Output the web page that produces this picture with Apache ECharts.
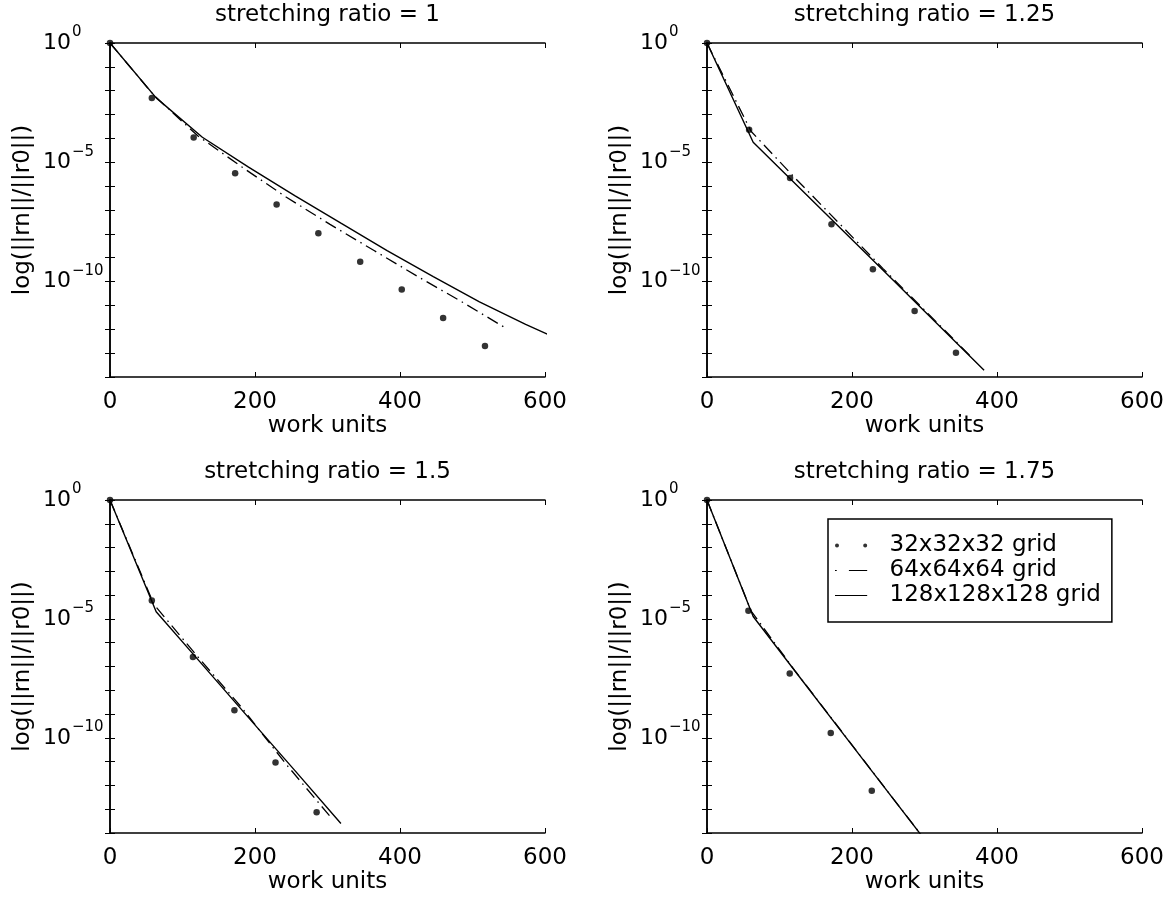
<!DOCTYPE html>
<html><head><meta charset="utf-8">
<script src="https://cdn.jsdelivr.net/npm/echarts@6/dist/echarts.min.js"></script>
<style>html,body{margin:0;padding:0;background:#fff}#c{width:1175px;height:905px}</style>
</head><body><div id="c"></div>
<script>
// ---------------- data ----------------
const titles = ['stretching ratio = 1', 'stretching ratio = 1.25', 'stretching ratio = 1.5', 'stretching ratio = 1.75'];
const seriesNames = ['32x32x32 grid', '64x64x64 grid', '128x128x128 grid'];
const xTickValues = [0, 200, 400, 600];
const yLabelExponents = [0, -5, -10];
const xAxisName = 'work units';
const yAxisName = 'log(||rn||/||r0||)';

// stretching ratio = 1
const r1_x32 = [0, 57.7, 115.4, 172.6, 229.8, 287.4, 345.1, 402.4, 459.5, 517.2];
const r1_y32 = [1, 5.0e-3, 1.1e-4, 3.5e-6, 1.7e-7, 1.05e-8, 6.8e-10, 4.6e-11, 3.0e-12, 2.0e-13];
const r1_x64 = [0, 60.7, 121.4, 182.1, 242.8, 303.5, 364.2, 424.9, 485.6, 546.3];
const r1_y64 = [1, 6.3e-3, 1.26e-4, 6.3e-6, 3.5e-7, 2.5e-8, 2.0e-9, 1.6e-10, 1.4e-11, 1.1e-12];
const r1_x128 = [0, 63.7, 127.4, 191.1, 254.8, 318.5, 382.2, 445.9, 509.6, 573.3, 637.0];
const r1_y128 = [1, 5.0e-3, 1.12e-4, 6.3e-6, 4.0e-7, 2.8e-8, 2.0e-9, 1.6e-10, 1.4e-11, 1.6e-12, 2.2e-13];

// stretching ratio = 1.25
const r2_x32 = [0, 58.1, 114.6, 171.7, 228.8, 286.4, 343.4];
const r2_y32 = [1, 2.3e-4, 2.2e-6, 2.5e-8, 3.3e-10, 5.8e-12, 1.05e-13];
const r2_x64 = [0, 60.7, 121.4, 182.1, 242.8, 303.5, 364.2];
const r2_y64 = [1, 2.0e-4, 2.2e-6, 2.8e-8, 3.5e-10, 5.0e-12, 7.1e-14];
const r2_x128 = [0, 63.7, 127.4, 191.1, 254.8, 318.5, 382.2];
const r2_y128 = [1, 6.9e-5, 8.5e-7, 1.05e-8, 1.3e-10, 1.6e-12, 1.9e-14];

// stretching ratio = 1.5
const r3_x32 = [0, 57.7, 114.4, 171.6, 228.3, 285.0];
const r3_y32 = [1, 6.0e-5, 2.5e-7, 1.45e-9, 9.3e-12, 7.4e-14];
const r3_x64 = [0, 60.7, 121.4, 182.1, 242.8, 303.5];
const r3_y64 = [1, 4.0e-5, 2.5e-7, 1.8e-9, 7.9e-12, 5.0e-14];
const r3_x128 = [0, 63.7, 127.4, 191.1, 254.8, 318.5];
const r3_y128 = [1, 2.0e-5, 1.2e-7, 7.1e-10, 4.3e-12, 2.5e-14];

// stretching ratio = 1.75
const r4_x32 = [0, 57.1, 114.1, 170.7, 227.3];
const r4_y32 = [1, 2.2e-5, 5.1e-8, 1.6e-10, 6.0e-13];
const r4_x64 = [0, 60.7, 121.4, 182.1, 242.8, 303.5];
const r4_y64 = [1, 2.2e-5, 6.6e-8, 2.6e-10, 1.0e-12, 4.0e-15];
const r4_x128 = [0, 63.7, 127.4, 191.1, 254.8, 318.5];
const r4_y128 = [1, 1.26e-5, 3.7e-8, 1.1e-10, 3.3e-13, 1.0e-15];

const panels = [
  [[r1_x32, r1_y32], [r1_x64, r1_y64], [r1_x128, r1_y128]],
  [[r2_x32, r2_y32], [r2_x64, r2_y64], [r2_x128, r2_y128]],
  [[r3_x32, r3_y32], [r3_x64, r3_y64], [r3_x128, r3_y128]],
  [[r4_x32, r4_y32], [r4_x64, r4_y64], [r4_x128, r4_y128]]
];

// ---------------- layout / style ----------------
const FONT = "'DejaVu Sans', 'Liberation Sans', Arial, sans-serif";
const FS = 23;
const gridBoxes = [
  {left: 110, top: 43, width: 435, height: 334},
  {left: 707, top: 43, width: 435, height: 334},
  {left: 110, top: 500, width: 435, height: 333},
  {left: 707, top: 500, width: 435, height: 333}
];
const AXIS_LINE = {show: true, lineStyle: {color: '#000', width: 1.5}};
const TICK = {show: true, inside: true, length: 5, lineStyle: {color: '#000', width: 1}};

const zip = (xs, ys) => xs.map((x, i) => [x, ys[i]]);
const supText = e => (e < 0 ? '\u2212' + (-e) : String(e));

const option = {
  animation: false,
  backgroundColor: '#fff',
  color: ['#000'],
  textStyle: {fontFamily: FONT, color: '#000'},
  title: gridBoxes.map((g, i) => ({
    text: titles[i], left: g.left + g.width / 2, top: g.top - 39, textAlign: 'center', padding: 0,
    textStyle: {fontFamily: FONT, fontSize: FS, fontWeight: 'normal', color: '#000', lineHeight: 23}
  })),
  grid: gridBoxes.map(g => Object.assign({containLabel: false, show: false}, g)),
  xAxis: [],
  yAxis: [],
  legend: {
    show: true, orient: 'vertical', left: 828, top: 519,
    backgroundColor: '#fff', borderColor: '#000', borderWidth: 1.5, borderRadius: 0,
    padding: [14, 11, 14, 7], itemGap: 0, itemWidth: 37, itemHeight: 4,
    textStyle: {fontFamily: FONT, fontSize: FS, color: '#000', lineHeight: 25, padding: [0, 0, 0, 15]},
    selectedMode: false,
    data: [
      {name: seriesNames[0], icon: 'path://M0,2a2.3,2.3 0 1,0 4.6,0a2.3,2.3 0 1,0 -4.6,0zM32.4,2a2.3,2.3 0 1,0 4.6,0a2.3,2.3 0 1,0 -4.6,0z'},
      {name: seriesNames[1], icon: 'path://M0,1.3h2v1.4h-2zM16,1.3h21v1.4h-21zM0,-0.3h0.01v4.6h-0.01z'},
      {name: seriesNames[2], icon: 'path://M0,1.3h37v1.4h-37zM0,-0.3h0.01v4.6h-0.01z'}
    ]
  },
  series: []
};

gridBoxes.forEach((g, i) => {
  option.xAxis.push({
    gridIndex: i, type: 'value', min: 0, max: 600, interval: 200, position: 'bottom',
    axisLine: AXIS_LINE, axisTick: TICK, splitLine: {show: false},
    axisLabel: {show: true, margin: 14, fontSize: FS, fontFamily: FONT, color: '#000',
      formatter: v => (xTickValues.indexOf(v) >= 0 ? String(v) : '')},
    name: xAxisName, nameLocation: 'middle', nameGap: 38,
    nameTextStyle: {fontSize: FS, fontFamily: FONT, color: '#000'}
  });
  option.xAxis.push({
    gridIndex: i, type: 'value', min: 0, max: 600, interval: 200, position: 'top',
    axisLine: AXIS_LINE, axisTick: TICK, axisLabel: {show: false}, splitLine: {show: false}
  });
  option.yAxis.push({
    gridIndex: i, type: 'log', logBase: 10, min: 1e-14, max: 1, interval: 1, position: 'left',
    axisLine: AXIS_LINE, axisTick: TICK, splitLine: {show: false}, minorTick: {show: false},
    axisLabel: {
      show: true, align: 'left', margin: 67, color: '#000',
      formatter: v => {
        const e = Math.round(Math.log10(v));
        return yLabelExponents.indexOf(e) >= 0 ? '{b|10}{s|' + supText(e) + '}' : '';
      },
      rich: {
        b: {fontSize: 22, fontFamily: FONT, color: '#000', lineHeight: 36, verticalAlign: 'middle'},
        s: {fontSize: 15, fontFamily: FONT, color: '#000', lineHeight: 16, verticalAlign: 'top', padding: [0, 0, 0, 1]}
      }
    },
    name: yAxisName, nameLocation: 'middle', nameGap: 75,
    nameTextStyle: {fontSize: FS, fontFamily: FONT, color: '#000'}
  });
  option.yAxis.push({
    gridIndex: i, type: 'log', logBase: 10, min: 1e-14, max: 1, interval: 1, position: 'right',
    axisLine: AXIS_LINE, axisTick: TICK, axisLabel: {show: false}, splitLine: {show: false}
  });

  const [d32, d64, d128] = panels[i];
  option.series.push({
    name: seriesNames[0], type: 'scatter', xAxisIndex: 2 * i, yAxisIndex: 2 * i,
    data: zip(d32[0], d32[1]), symbol: 'circle', symbolSize: 6.5, clip: false,
    itemStyle: {color: '#000'}, z: 5
  });
  option.series.push({
    name: seriesNames[1], type: 'line', xAxisIndex: 2 * i, yAxisIndex: 2 * i,
    data: zip(d64[0], d64[1]), showSymbol: false, symbol: 'none', clip: true,
    itemStyle: {color: '#000'},
    lineStyle: {color: '#000', width: 1.3, type: [12, 5, 1.5, 5]}, z: 3
  });
  option.series.push({
    name: seriesNames[2], type: 'line', xAxisIndex: 2 * i, yAxisIndex: 2 * i,
    data: zip(d128[0], d128[1]), showSymbol: false, symbol: 'none', clip: true,
    itemStyle: {color: '#000'},
    lineStyle: {color: '#000', width: 1.4, type: 'solid'}, z: 4
  });
});

const chart = echarts.init(document.getElementById('c'), null, {renderer: 'canvas'});
chart.setOption(option);
</script>
</body></html>
